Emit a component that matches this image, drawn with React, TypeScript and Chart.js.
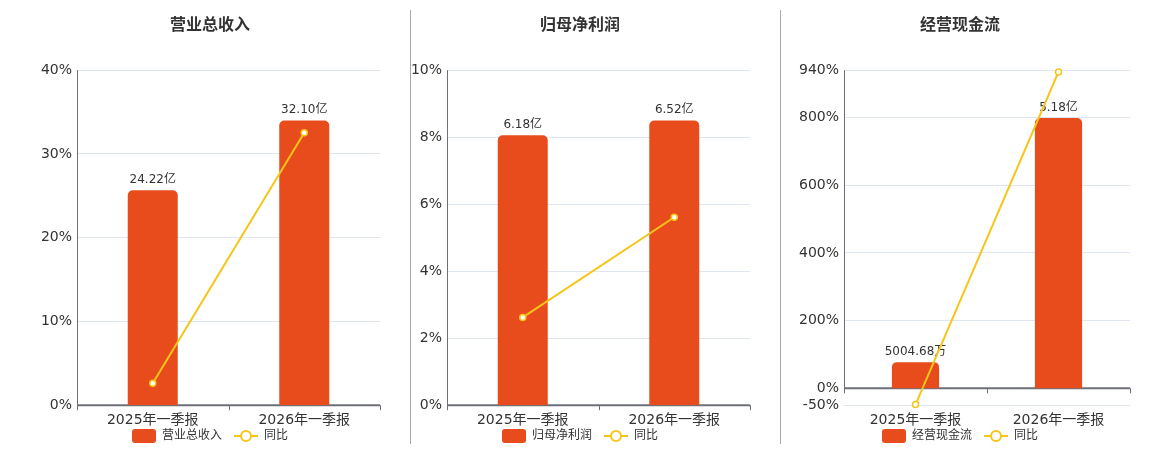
import { useEffect, useRef } from 'react';
import { Chart, registerables } from 'chart.js';

Chart.register(...registerables);

const categories = ['2025年一季报', '2026年一季报'];

const revenueValues = [24.22, 32.1];
const revenueLabels = ['24.22亿', '32.10亿'];
const revenueYoy = [2.63, 32.53];
const revenueTicks = [0, 10, 20, 30, 40];

const profitValues = [6.18, 6.52];
const profitLabels = ['6.18亿', '6.52亿'];
const profitYoy = [2.62, 5.61];
const profitTicks = [0, 2, 4, 6, 8, 10];

const cashValues = [0.500468, 5.18];
const cashLabels = ['5004.68万', '5.18亿'];
const cashYoy = [-48, 935];
const cashTicks = [-50, 0, 200, 400, 600, 800, 940];

const FONT = "'DejaVu Sans', 'Noto Sans CJK SC', sans-serif";
const BAR_COLOR = '#e84c1c';
const LINE_COLOR = '#f5c518';
const TEXT_COLOR = '#333';
const AXIS_COLOR = '#6e7079';
const GRID_COLOR = '#e0e6f1';

// x/y axis lines drawn at the value-0 level, like the original
const axisPlugin = {
  id: 'axisLines',
  beforeDatasetsDraw(chart: any) {
    const { ctx, chartArea, scales } = chart;
    const y0 = scales.y.getPixelForValue(0);
    const n = chart.data.labels.length;
    ctx.save();
    ctx.strokeStyle = AXIS_COLOR;
    ctx.lineWidth = 1;
    ctx.beginPath();
    ctx.moveTo(chartArea.left + 0.5, chartArea.top);
    ctx.lineTo(chartArea.left + 0.5, y0);
    ctx.stroke();
    for (let i = 0; i <= n; i++) {
      const px = Math.round(scales.x.getPixelForValue(i - 0.5)) + 0.5;
      ctx.beginPath();
      ctx.moveTo(px, y0);
      ctx.lineTo(px, y0 + 5);
      ctx.stroke();
    }
    ctx.lineWidth = 2;
    ctx.beginPath();
    ctx.moveTo(chartArea.left, y0);
    ctx.lineTo(chartArea.right, y0);
    ctx.stroke();
    ctx.restore();
  },
};

// value labels above the bars
const barLabelPlugin = {
  id: 'barLabels',
  beforeDatasetsDraw(chart: any, _args: any, opts: any) {
    const { ctx } = chart;
    const meta = chart.getDatasetMeta(0);
    ctx.save();
    ctx.font = `12px ${FONT}`;
    ctx.fillStyle = TEXT_COLOR;
    ctx.textAlign = 'center';
    ctx.textBaseline = 'alphabetic';
    meta.data.forEach((el: any, i: number) => {
      ctx.fillText(opts.labels[i], el.x, el.y - 7);
    });
    ctx.restore();
  },
};

const legendPlugin = {
  id: 'bottomLegend',
  afterDraw(chart: any) {
    const { ctx, width } = chart;
    const items = chart.data.datasets.map((d: any) => ({ text: d.label, type: d.type }));
    ctx.save();
    ctx.font = `12px ${FONT}`;
    const iconW = 24;
    const gap = 6;
    const itemGap = 12;
    const widths = items.map((it: any) => iconW + gap + ctx.measureText(it.text).width);
    const total = widths.reduce((a: number, b: number) => a + b, 0) + itemGap * (items.length - 1);
    let x = width / 2 - total / 2;
    const y = 436;
    items.forEach((it: any, i: number) => {
      if (it.type === 'bar') {
        ctx.fillStyle = BAR_COLOR;
        ctx.beginPath();
        ctx.roundRect(x, y - 7, iconW, 14, 3);
        ctx.fill();
      } else {
        ctx.strokeStyle = LINE_COLOR;
        ctx.lineWidth = 2;
        ctx.beginPath();
        ctx.moveTo(x, y);
        ctx.lineTo(x + iconW, y);
        ctx.stroke();
        ctx.beginPath();
        ctx.arc(x + iconW / 2, y, 5, 0, Math.PI * 2);
        ctx.fillStyle = '#fff';
        ctx.fill();
        ctx.stroke();
      }
      ctx.fillStyle = TEXT_COLOR;
      ctx.textAlign = 'left';
      ctx.textBaseline = 'middle';
      ctx.fillText(it.text, x + iconW + gap, y);
      x += widths[i] + itemGap;
    });
    ctx.restore();
  },
};

interface PanelProps {
  title: string;
  values: number[];
  labels: string[];
  yoy: number[];
  ticks: number[];
  left: number;
  axisWidth: number;
}

function Panel({ title, values, labels, yoy, ticks, left, axisWidth }: PanelProps) {
  const canvasRef = useRef<HTMLCanvasElement>(null);
  const chartRef = useRef<Chart | null>(null);

  useEffect(() => {
    if (!canvasRef.current) return;
    if (chartRef.current) chartRef.current.destroy();

    const tMin = ticks[0];
    const tMax = ticks[ticks.length - 1];
    const barMax = Math.max(...values) / 0.85;
    const barMin = tMin < 0 ? (barMax * tMin) / tMax : 0;

    chartRef.current = new Chart(canvasRef.current, {
      type: 'bar',
      data: {
        labels: categories,
        datasets: [
          {
            type: 'bar',
            label: title,
            data: values,
            backgroundColor: BAR_COLOR,
            borderRadius: 5,
            categoryPercentage: 0.33,
            barPercentage: 1,
            yAxisID: 'y1',
            order: 2,
          },
          {
            type: 'line',
            label: '同比',
            data: yoy,
            borderColor: LINE_COLOR,
            backgroundColor: '#fff',
            borderWidth: 2,
            pointRadius: 3,
            pointBorderWidth: 1.5,
            pointBackgroundColor: '#fff',
            pointBorderColor: LINE_COLOR,
            clip: false,
            yAxisID: 'y',
            order: 1,
          },
        ],
      } as any,
      options: {
        animation: false,
        responsive: true,
        maintainAspectRatio: false,
        layout: { padding: { left: 20, right: 20, bottom: 14 } },
        plugins: {
          legend: { display: false },
          tooltip: { enabled: false },
          title: {
            display: true,
            text: title,
            color: TEXT_COLOR,
            font: { family: FONT, size: 16, weight: 'bold', lineHeight: 1.2 },
            padding: { top: 16, bottom: 35 },
          },
          barLabels: { labels },
        } as any,
        scales: {
          x: {
            type: 'category',
            offset: true,
            grid: { display: false, drawTicks: false },
            border: { display: false },
            ticks: { font: { family: FONT, size: 14 }, color: TEXT_COLOR, padding: 7 },
          },
          y: {
            position: 'left',
            min: tMin,
            max: tMax,
            afterBuildTicks: (scale: any) => {
              scale.ticks = ticks.map((v) => ({ value: v }));
            },
            afterFit: (scale: any) => {
              scale.width = axisWidth;
            },
            grid: { color: GRID_COLOR, drawTicks: false },
            border: { display: false },
            ticks: {
              font: { family: FONT, size: 14 },
              color: TEXT_COLOR,
              padding: 5,
              callback: (v: any) => `${v}%`,
            },
          },
          y1: {
            display: false,
            min: barMin,
            max: barMax,
          },
        },
      },
      plugins: [axisPlugin, barLabelPlugin, legendPlugin],
    });

    return () => {
      chartRef.current?.destroy();
    };
  }, [title, values, labels, yoy, ticks, axisWidth]);

  return (
    <div style={{ position: 'absolute', left, top: 0, width: 380, height: 450 }}>
      <canvas ref={canvasRef} />
    </div>
  );
}

export default function App() {
  return (
    <div style={{ position: 'fixed', left: 0, top: 0, width: 1160, height: 450, background: '#fff' }}>
      <Panel title="营业总收入" values={revenueValues} labels={revenueLabels} yoy={revenueYoy} ticks={revenueTicks} left={20} axisWidth={37} />
      <Panel title="归母净利润" values={profitValues} labels={profitLabels} yoy={profitYoy} ticks={profitTicks} left={390} axisWidth={37} />
      <Panel title="经营现金流" values={cashValues} labels={cashLabels} yoy={cashYoy} ticks={cashTicks} left={770} axisWidth={54} />
      <div style={{ position: 'absolute', left: 410, top: 10, width: 1, height: 434, background: '#aaa' }} />
      <div style={{ position: 'absolute', left: 780, top: 10, width: 1, height: 434, background: '#aaa' }} />
    </div>
  );
}
